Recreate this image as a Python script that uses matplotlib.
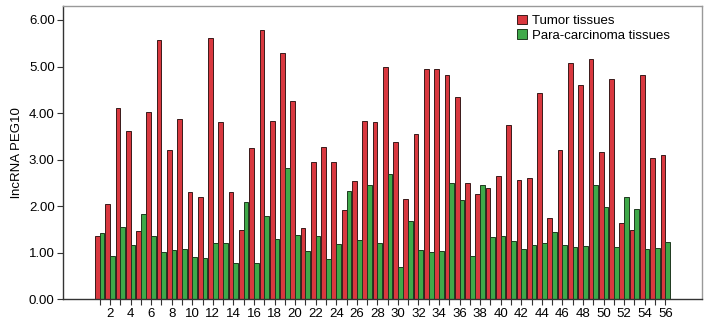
import matplotlib
matplotlib.use("Agg")
import matplotlib.pyplot as plt
import numpy as np

plt.rcParams['font.family'] = ['Liberation Sans', 'DejaVu Sans']

# lncRNA PEG10 expression, samples 1..56
tumor = [1.36, 2.04, 4.12, 3.61, 1.46, 4.02, 5.56, 3.21, 3.88, 2.30,
         2.19, 5.61, 3.80, 2.31, 1.49, 3.26, 5.79, 3.84, 5.30, 4.25,
         1.53, 2.94, 3.27, 2.96, 1.91, 2.54, 3.84, 3.81, 4.99, 3.37,
         2.16, 3.55, 4.94, 4.95, 4.81, 4.35, 2.49, 2.26, 2.40, 2.65,
         3.74, 2.57, 2.61, 4.44, 1.74, 3.20, 5.07, 4.60, 5.16, 3.16,
         4.73, 1.64, 1.48, 4.81, 3.04, 3.09]
para = [1.43, 0.92, 1.56, 1.17, 1.83, 1.36, 1.01, 1.05, 1.08, 0.91,
        0.89, 1.21, 1.21, 0.79, 2.09, 0.77, 1.79, 1.29, 2.82, 1.38,
        1.04, 1.36, 0.86, 1.19, 2.32, 1.28, 2.46, 1.22, 2.69, 0.69,
        1.69, 1.06, 1.01, 1.04, 2.50, 2.14, 0.94, 2.46, 1.34, 1.36,
        1.25, 1.07, 1.16, 1.22, 1.44, 1.17, 1.13, 1.14, 2.46, 1.99,
        1.12, 2.19, 1.94, 1.08, 1.11, 1.24]
samples = np.arange(1, len(tumor) + 1)
tick_labels = [str(s) if s % 2 == 0 else '' for s in samples]

fig = plt.figure(figsize=(7.07, 3.24), dpi=100)
ax = fig.add_axes([0.0891, 0.0762, 0.9034, 0.9052])

w = 0.46
ax.bar(samples - w / 2, tumor, w, color='#d9383f', edgecolor='#3a1a1a',
       linewidth=0.7, label='Tumor tissues')
ax.bar(samples + w / 2, para, w, color='#3fa949', edgecolor='#1f3a1f',
       linewidth=0.7, label='Para-carcinoma tissues')

ax.set_xlim(-2.57, 59.54)
ax.set_ylim(0, 6.3)
ax.set_xticks(samples)
ax.set_xticklabels(tick_labels, fontsize=9.5)
ax.set_yticks(np.arange(0, 7, 1))
ax.set_yticklabels([f'{v:.2f}' for v in range(7)], fontsize=9.5)
ax.set_ylabel('lncRNA PEG10', fontsize=9.5, labelpad=4)
ax.tick_params(axis='both', length=4, width=0.8, color='#333333', pad=2)

for side in ['left', 'bottom']:
    ax.spines[side].set_color('#333333')
for side in ['top', 'right']:
    ax.spines[side].set_color('#999999')
for s in ax.spines.values():
    s.set_linewidth(1.0)

ax.legend(loc='upper left', bbox_to_anchor=(0.697, 1.0), frameon=False,
          fontsize=9.5, handlelength=0.7, handleheight=0.7,
          handletextpad=0.4, labelspacing=0.15, borderpad=0.2)

fig.savefig('out.png', dpi=100)
